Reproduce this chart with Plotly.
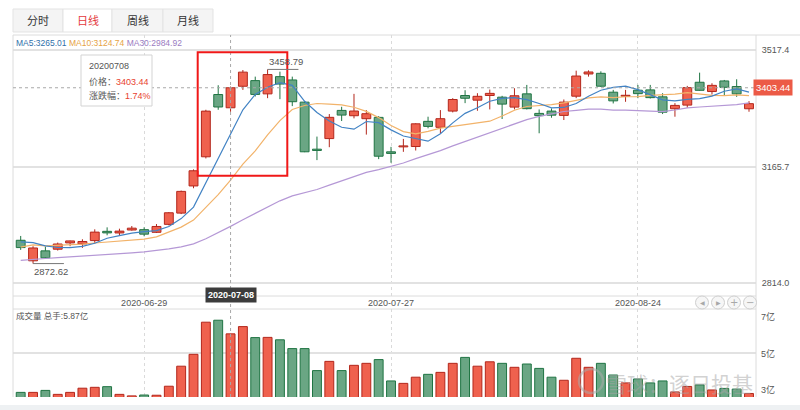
import plotly.graph_objects as go
import pandas as pd

# ---------------------------
# Data
# ---------------------------
dates = [
    "2020-06-11", "2020-06-12", "2020-06-15", "2020-06-16", "2020-06-17", "2020-06-18", "2020-06-19",
    "2020-06-22", "2020-06-23", "2020-06-24", "2020-06-29", "2020-06-30",
    "2020-07-01", "2020-07-02", "2020-07-03", "2020-07-06", "2020-07-07", "2020-07-08", "2020-07-09",
    "2020-07-10", "2020-07-13", "2020-07-14", "2020-07-15", "2020-07-16", "2020-07-17", "2020-07-20",
    "2020-07-21", "2020-07-22", "2020-07-23", "2020-07-24", "2020-07-27", "2020-07-28", "2020-07-29",
    "2020-07-30", "2020-07-31",
    "2020-08-03", "2020-08-04", "2020-08-05", "2020-08-06", "2020-08-07", "2020-08-10", "2020-08-11",
    "2020-08-12", "2020-08-13", "2020-08-14", "2020-08-17", "2020-08-18", "2020-08-19", "2020-08-20",
    "2020-08-21", "2020-08-24", "2020-08-25", "2020-08-26", "2020-08-27", "2020-08-28", "2020-08-31",
    "2020-09-01", "2020-09-02", "2020-09-03", "2020-09-04",
]
open_ = [2943, 2881, 2911, 2916, 2935, 2932, 2942, 2970, 2965, 2974, 2975, 2967,
         2991, 3025, 3107, 3195, 3383, 3343, 3408, 3425, 3385, 3437, 3427, 3360, 3218, 3250,
         3335, 3319, 3310, 3314, 3210, 3225, 3226, 3302, 3284,
         3333, 3380, 3366, 3380, 3375, 3345, 3385, 3326, 3333, 3320, 3378, 3445, 3447, 3390,
         3378, 3396, 3397, 3376, 3340, 3351, 3420,
         3392, 3424, 3407, 3340]
high = [2956, 2925, 2924, 2936, 2942, 2946, 2976, 2982, 2978, 2986, 2982, 2992,
        3028, 3093, 3157, 3337, 3411, 3407, 3456.97, 3437, 3458.79, 3452, 3437, 3363, 3256, 3324,
        3346, 3385, 3336, 3318, 3225, 3249, 3296, 3316, 3336,
        3372, 3396, 3387, 3398, 3379, 3402, 3412, 3338, 3341, 3368, 3455, 3456, 3453, 3397,
        3397, 3412, 3412, 3387, 3357, 3409, 3449,
        3417, 3427, 3429, 3363]
low = [2914, 2872.62, 2888, 2912, 2925, 2920, 2934, 2958, 2957, 2972, 2955, 2965,
       2988, 3022, 3100, 3190, 3337, 3331, 3397, 3377, 3372, 3369, 3348, 3209, 3185, 3224,
       3303, 3311, 3262, 3188, 3177, 3210, 3214, 3281, 3266,
       3329, 3357, 3334, 3338, 3309, 3338, 3338, 3266, 3313, 3306, 3372, 3437, 3406, 3356,
       3361, 3372, 3371, 3324, 3316, 3343, 3395,
       3383, 3381, 3376, 3331]
close = [2920.90, 2919.74, 2890.03, 2931.75, 2941.07, 2939.32, 2967.63, 2965.27, 2970.62, 2979.55, 2961.52, 2984.67,
         3025.98, 3090.57, 3152.81, 3332.88, 3345.34, 3403.44, 3450.59, 3383.32, 3443.29, 3414.62, 3361.30,
         3210.10, 3214.13, 3314.15, 3320.90, 3333.16, 3325.11, 3196.77, 3205.23, 3227.96, 3294.55, 3286.82, 3310.01,
         3367.97, 3371.69, 3377.56, 3386.46, 3354.04, 3379.25, 3340.29, 3319.27, 3320.73, 3360.10, 3438.80,
         3451.09, 3408.13, 3363.90, 3380.68, 3385.64, 3373.58, 3329.74, 3350.11, 3403.81, 3395.68,
         3410.61, 3404.80, 3384.98, 3355.37]
# volume, 亿手
volume = [3.21, 3.21, 3.30, 3.12, 3.21, 3.40, 3.44, 3.47, 3.12, 3.05, 3.09, 3.08,
          3.49, 4.40, 4.94, 6.40, 6.49, 5.87, 6.20, 5.70, 5.71, 5.60, 5.20, 5.20, 4.20, 4.62,
          4.20, 4.44, 4.53, 4.70, 3.73, 3.62, 3.90, 4.03, 4.12,
          4.53, 4.80, 4.40, 4.60, 4.53, 4.35, 4.50, 4.30, 3.90, 3.76, 4.76, 4.35, 4.53, 4.00,
          3.64, 3.82, 3.64, 3.73, 3.23, 3.48, 3.55,
          3.32, 3.39, 3.36, 3.16]
# closes before the visible window, only used to warm up the MA lines
ma_warmup_close = [2810.02, 2822.44, 2860.08, 2878.14, 2871.52, 2895.34, 2894.80, 2891.56, 2898.05,
                   2870.34, 2868.46, 2875.42, 2898.58, 2883.74, 2867.92, 2813.77, 2817.97, 2846.55,
                   2836.80, 2840.93, 2852.35, 2915.43, 2921.40, 2923.37, 2919.25, 2930.80, 2937.77,
                   2956.11, 2943.75]

price_ticks = [2814.0, 3165.7, 3517.4]
date_ticks = ["2020-06-29", "2020-07-27", "2020-08-24"]
focus_date = "2020-07-08"
tabs = ["分时", "日线", "周线", "月线"]

# ---------------------------
# Styles / geometry (pixels)
# ---------------------------
RED_FILL, RED_LINE = "#ef614e", "#b3271c"
GREEN_FILL, GREEN_LINE = "#6aa684", "#1f7443"
MA5_C, MA10_C, MA30_C = "#4283c4", "#f2b36a", "#b598d6"
TXT = "#555555"
FONT = "Liberation Sans, Noto Sans CJK SC, sans-serif"

W, H = 800, 410
L, R, T, B = 13, 756, 35, 397
PRICE_BOTTOM, VOL_TOP = 296, 309
k = (price_ticks[2] - price_ticks[0]) / (283 - 50)   # price per pixel
p_top = price_ticks[2] + (50 - T) * k
p_bot = price_ticks[0] - (PRICE_BOTTOM - 283) * k
BODY_HW = 0.36


def px(x):
    return (x - L) / (R - L)


def py(y):
    return (B - y) / (B - T)


n = len(dates)
idx = list(range(n))
fi = dates.index(focus_date)
closes = pd.Series(ma_warmup_close + close)
nw = len(ma_warmup_close)
ma5 = closes.rolling(5).mean().iloc[nw:].tolist()
ma10 = closes.rolling(10).mean().iloc[nw:].tolist()
ma30 = closes.rolling(30).mean().iloc[nw:].tolist()
up = [c >= o for o, c in zip(open_, close)]

fig = go.Figure()

# candles: wicks first, bodies over them
for is_up, fillc, linec in [(True, RED_FILL, RED_LINE), (False, GREEN_FILL, GREEN_LINE)]:
    wx, wy, bx, by = [], [], [], []
    for i in idx:
        if up[i] != is_up:
            continue
        lo, hi = min(open_[i], close[i]), max(open_[i], close[i])
        wx += [i, i, None]
        wy += [low[i], high[i], None]
        bx += [i - BODY_HW, i + BODY_HW, i + BODY_HW, i - BODY_HW, i - BODY_HW, None]
        by += [lo, lo, hi, hi, lo, None]
    fig.add_trace(go.Scatter(x=wx, y=wy, mode="lines", line=dict(color=linec, width=1),
                             xaxis="x", yaxis="y", hoverinfo="skip"))
    fig.add_trace(go.Scatter(x=bx, y=by, mode="lines", fill="toself", fillcolor=fillc,
                             line=dict(color=linec, width=1), xaxis="x", yaxis="y", hoverinfo="skip"))

for ser, col in [(ma30, MA30_C), (ma10, MA10_C), (ma5, MA5_C)]:
    fig.add_trace(go.Scatter(x=idx, y=ser, mode="lines", line=dict(color=col, width=1.2),
                             xaxis="x", yaxis="y", hoverinfo="skip"))
fig.add_trace(go.Bar(x=idx, y=volume, width=0.72, xaxis="x2", yaxis="y2",
                     marker=dict(color=[RED_FILL if u else GREEN_FILL for u in up],
                                 line=dict(color=[RED_LINE if u else GREEN_LINE for u in up], width=1)),
                     hoverinfo="skip"))

xr = [-(20.7 - L) / 12.344, n - 1 + (R - 749) / 12.344]
tick_idx = [dates.index(d) for d in date_ticks]
shapes = []
annotations = []


def note(x, y, text, size=9, color=TXT, anchor="center", **kw):
    annotations.append(dict(xref="paper", yref="paper", x=px(x), y=py(y), text=text, showarrow=False,
                            xanchor=anchor, yanchor="middle", font=dict(size=size, color=color), **kw))


# frame and bands
frame = dict(type="line", xref="paper", yref="paper", line=dict(color="#dcdcdc", width=1))
shapes.append({**frame, "x0": px(L), "x1": px(L), "y0": 0, "y1": 1})
shapes.append({**frame, "x0": px(R), "x1": px(R), "y0": 0, "y1": 1})
shapes.append({**frame, "x0": px(L), "x1": px(W), "y0": 1, "y1": 1})
shapes.append({**frame, "x0": px(L), "x1": px(R), "y0": py(PRICE_BOTTOM), "y1": py(PRICE_BOTTOM)})
shapes.append({**frame, "x0": px(L), "x1": px(R), "y0": py(VOL_TOP), "y1": py(VOL_TOP)})
shapes.append(dict(type="rect", xref="paper", yref="paper", x0=px(0), x1=px(W), y0=py(410), y1=py(405),
                   fillcolor="#eef1f3", line_width=0))

# tabs
tab_x = [13, 63, 112, 163, 213]
for i, name in enumerate(tabs):
    active = name == "日线"
    shapes.append(dict(type="rect", xref="paper", yref="paper", x0=px(tab_x[i]), x1=px(tab_x[i + 1]),
                       y0=py(32), y1=py(9), fillcolor="#ffffff" if active else "#f4f4f4",
                       line=dict(color="#e3e3e3", width=1)))
    note((tab_x[i] + tab_x[i + 1]) / 2, 21, name, size=11, color="#e4393c" if active else "#333")

# crosshair
shapes.append(dict(type="line", xref="x", yref="paper", x0=fi, x1=fi, y0=0, y1=1,
                   line=dict(color="#a8a8a8", width=1, dash="dot")))
shapes.append(dict(type="line", xref="paper", yref="y", x0=0, x1=1, y0=close[fi], y1=close[fi],
                   line=dict(color="#a8a8a8", width=1, dash="dot")))
annotations.append(dict(xref="paper", yref="y", x=px(R - 3), y=close[fi], xanchor="left", text=f"{close[fi]:.2f}",
                        showarrow=False, bgcolor="#ec5a46", borderpad=2, font=dict(size=9.5, color="white")))
annotations.append(dict(xref="x", yref="paper", x=fi, y=py(302.5), xanchor="center", text=f"<b>{focus_date}</b>",
                        showarrow=False, bgcolor="#3c3c3c", borderpad=2, font=dict(size=9, color="white")))

# highlight box
shapes.append(dict(type="rect", xref="paper", yref="paper", x0=px(197.7), x1=px(287.3), y0=py(175.7),
                   y1=py(52.3), line=dict(color="#f01818", width=2)))

# max / min markers
imax = high.index(max(high))
imin = low.index(min(low))
shapes.append(dict(type="line", xref="x", yref="y", x0=imax, x1=imax + 2.5, y0=high[imax], y1=high[imax],
                   line=dict(color="#777", width=1)))
annotations.append(dict(xref="x", yref="y", x=imax - 0.05, y=high[imax], xanchor="left", yanchor="bottom",
                        text=f"{high[imax]:.2f}", showarrow=False, font=dict(size=9.5, color=TXT)))
shapes.append(dict(type="line", xref="x", yref="y", x0=imin, x1=imin + 2.5, y0=low[imin], y1=low[imin],
                   line=dict(color="#777", width=1)))
annotations.append(dict(xref="x", yref="y", x=imin - 0.05, y=low[imin], xanchor="left", yanchor="top",
                        text=f"{low[imin]:.2f}", showarrow=False, font=dict(size=9.5, color=TXT)))

# MA header
note(14, 43, (f"<span style='color:#2f70aa'>MA5:{ma5[fi]:.2f}</span> "
              f"<span style='color:#e6a345'>MA10:{ma10[fi]:.2f}</span> "
              f"<span style='color:#9a7cc2'>MA30:{ma30[fi]:.2f}</span>"), size=8.5, anchor="left")

# tooltip
pct = (close[fi] / close[fi - 1] - 1) * 100
shapes.append(dict(type="rect", xref="paper", yref="paper", x0=px(81), x1=px(152), y0=py(106), y1=py(55),
                   fillcolor="white", line=dict(color="#d3d3d3", width=1)))
tip_lines = [focus_date.replace("-", ""),
             f"价格：<span style='color:#e8412f'>{close[fi]:.2f}</span>",
             f"涨跌幅：<span style='color:#e8412f'>{pct:.2f}%</span>"]
for j, line in enumerate(tip_lines):
    note(87, 66 + 15 * j, line, anchor="left")

# volume labels
note(14, 316, f"成交量 总手:{volume[fi]:.2f}亿", size=8.5, anchor="left")
for lab, yy in [("7亿", 316.5), ("5亿", 353), ("3亿", 389)]:
    note(R + 3, yy, lab, anchor="left")

# nav buttons
for cx, g in zip([702, 718, 734, 750], ["◀", "▶", "+", "−"]):
    shapes.append(dict(type="circle", xref="paper", yref="paper", x0=px(cx - 6.5), x1=px(cx + 6.5),
                       y0=py(309), y1=py(296), fillcolor="#f6f6f6", line=dict(color="#cfcfcf", width=1)))
    annotations.append(dict(xref="paper", yref="paper", x=px(cx), y=py(302.5), text=g, showarrow=False,
                            xanchor="center", yanchor="middle",
                            font=dict(family="DejaVu Sans", size=6 if g in "◀▶" else 10, color="#a8a8a8")))

# watermark
shapes.append(dict(type="circle", xref="paper", yref="paper", x0=px(579), x1=px(603), y0=py(393), y1=py(369),
                   line=dict(color="rgba(170,170,170,0.55)", width=2.5)))
note(679, 384, "雪球：逐日投基", size=21, color="rgba(165,165,165,0.5)")

fig.update_layout(
    width=W, height=H, margin=dict(l=L, r=W - R, t=T, b=H - B),
    paper_bgcolor="white", plot_bgcolor="white", showlegend=False, hovermode=False,
    font=dict(family=FONT, size=9, color=TXT),
    xaxis=dict(domain=[0, 1], anchor="y", range=xr, tickvals=tick_idx, ticktext=date_ticks,
               showgrid=True, gridcolor="#dadada", griddash="dot", gridwidth=1, zeroline=False,
               tickfont=dict(size=9, color=TXT), ticks=""),
    yaxis=dict(domain=[py(PRICE_BOTTOM), 1], range=[p_bot, p_top], side="right", tickvals=price_ticks,
               ticktext=[f"{v:.1f}" for v in price_ticks], gridcolor="#e2e2e2", gridwidth=1.5, zeroline=False,
               ticks="outside", ticklen=3, tickcolor="rgba(0,0,0,0)", tickfont=dict(size=9, color=TXT)),
    xaxis2=dict(domain=[0, 1], anchor="y2", matches="x", range=xr, tickvals=tick_idx,
                showticklabels=False, showgrid=True, gridcolor="#dadada", griddash="dot", zeroline=False),
    yaxis2=dict(domain=[0, py(VOL_TOP)], range=[3, 7], side="right", tickvals=[5], showticklabels=False,
                gridcolor="#e2e2e2", gridwidth=1.5, zeroline=False),
    shapes=shapes, annotations=annotations,
)

fig.write_html("out.html", config={"displayModeBar": False},
               post_script="document.body.style.margin = '0';")
